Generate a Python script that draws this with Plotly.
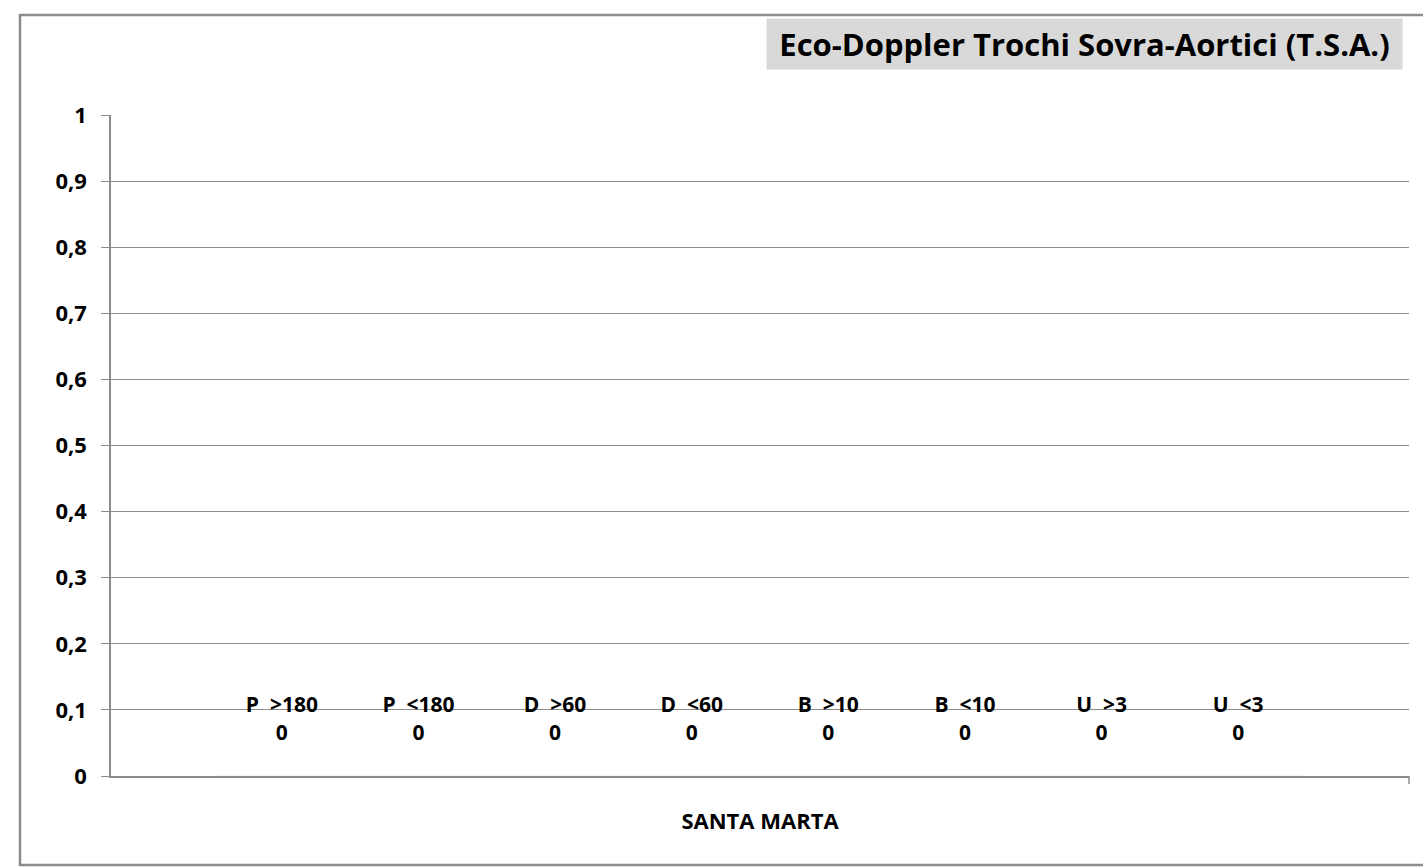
import plotly.graph_objects as go

# dati del grafico
categoria = ["SANTA MARTA"]
serie = ["P\u00a0 >180", "P\u00a0 <180", "D\u00a0 >60", "D\u00a0 <60",
         "B\u00a0 >10", "B\u00a0 <10", "U\u00a0 >3", "U\u00a0 <3"]
valori = [0, 0, 0, 0, 0, 0, 0, 0]
colori = ["#4F81BD", "#C0504D", "#9BBB59", "#8064A2",
          "#4BACC6", "#F79646", "#2C4D75", "#772C2A"]

titolo = "Eco-Doppler Trochi Sovra-Aortici (T.S.A.)"
font = "Open Sans, Calibri, Arial, sans-serif"
grigio = "#8c8c8c"

fig = go.Figure()
for nome, v, c in zip(serie, valori, colori):
    fig.add_trace(go.Bar(
        x=categoria, y=[v], name=nome, marker_color=c,
        text=[f"<b>{nome}<br>{v}<br>\u00a0</b>"],
        textposition="outside", cliponaxis=False,
        textfont=dict(family=font, size=21, color="black"),
    ))

W, H = 1423, 867
l, r, t, b = 111, 14, 115, 91
pw, ph = W - l - r, H - t - b

def px_x(x):
    return (x - l) / pw

def px_y(y):
    return (H - b - y) / ph

fig.update_layout(
    width=W, height=H,
    margin=dict(l=l, r=r, t=t, b=b),
    paper_bgcolor="white", plot_bgcolor="white",
    separators=",.",
    barmode="group", bargap=0.158, bargroupgap=0,
    showlegend=False,
    font=dict(family=font, color="black"),
    xaxis=dict(
        type="category", showgrid=False, showline=True,
        linecolor=grigio, linewidth=1.5, ticks="",
        tickfont=dict(family=font, size=22, color="black"),
        ticklabelstandoff=25,
        tickvals=categoria, ticktext=["<b>SANTA MARTA</b>"],
    ),
    yaxis=dict(
        range=[0, 1], dtick=0.1, showgrid=True,
        gridcolor=grigio, gridwidth=1.2, zeroline=False,
        showline=True, linecolor=grigio, linewidth=1.5,
        ticks="outside", ticklen=8, tickcolor=grigio, tickwidth=1.2,
        ticklabelstandoff=10,
        tickfont=dict(family=font, size=22, color="black"),
        tickprefix="<b>", ticksuffix="</b>",
    ),
    annotations=[dict(
        text=f"<b>{titolo}</b>", xref="paper", yref="paper",
        x=px_x(1403), y=px_y(18), xanchor="right", yanchor="top",
        width=629, height=44, borderpad=3, align="center",
        showarrow=False, bgcolor="#d9d9d9",
        font=dict(family=font, size=31, color="black"),
    )],
    shapes=[
        # bordo esterno del grafico
        dict(type="rect", xref="paper", yref="paper",
             x0=px_x(20), x1=px_x(1440), y0=px_y(865), y1=px_y(15),
             line=dict(color=grigio, width=2.5), layer="below"),
        # tacca finale asse categorie
        dict(type="line", xref="paper", yref="paper",
             x0=1, x1=1, y0=0, y1=px_y(784),
             line=dict(color=grigio, width=1.5)),
    ],
)

fig.write_html("out.html", config={"displayModeBar": False},
               post_script="document.body.style.margin='0px';")
